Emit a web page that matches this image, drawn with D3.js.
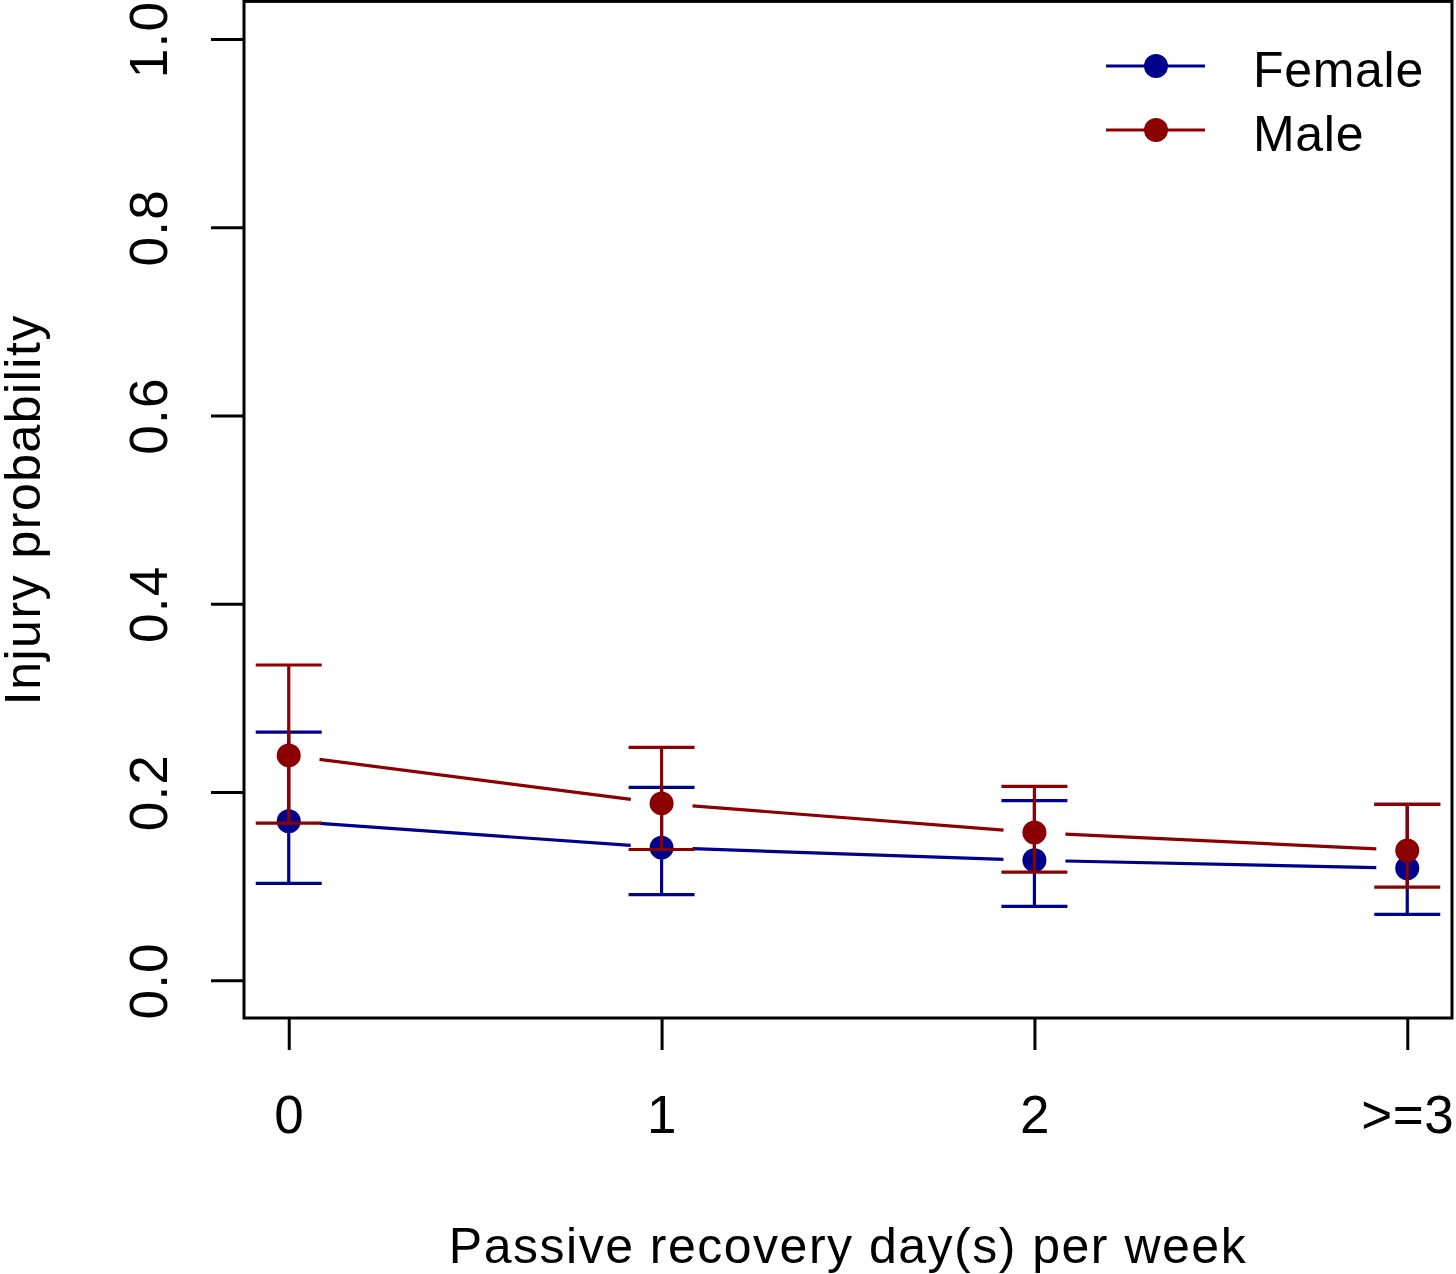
<!DOCTYPE html>
<html><head><meta charset="utf-8">
<script src="https://cdn.jsdelivr.net/npm/d3@7/dist/d3.min.js"></script>
<style>html,body{margin:0;padding:0;background:#fff}svg{display:block}text{font-family:"Liberation Sans",Arial,sans-serif;fill:#000}</style>
</head><body>
<svg id="c" width="1456" height="1274"></svg>
<script>
const categories = ["0", "1", "2", ">=3"];
const femaleMean  = [0.169, 0.141, 0.1275, 0.119];
const femaleLower = [0.103, 0.091, 0.0786, 0.070];
const femaleUpper = [0.2636, 0.205, 0.191, 0.187];
const maleMean  = [0.239, 0.188, 0.157, 0.138];
const maleLower = [0.167, 0.139, 0.115, 0.099];
const maleUpper = [0.335, 0.2476, 0.206, 0.187];
const yTicks = [0, 0.2, 0.4, 0.6, 0.8, 1.0];
const seriesNames = ["Female", "Male"];
const seriesColors = ["#00008B", "#8B0000"];

const svg = d3.select("#c");
const L = 244, R = 1452, T = 1.4, B = 1018;
const x = d3.scaleLinear().domain([-0.12, 3.12]).range([L, R]);
const y = d3.scaleLinear().domain([-0.04, 1.04]).range([B, T]);
const FONT = '"Liberation Sans",Arial,sans-serif';

// box
svg.append("rect").attr("x", L).attr("y", T).attr("width", R - L).attr("height", B - T)
  .attr("fill", "none").attr("stroke", "#000").attr("stroke-width", 3);

// y axis
const yAxis = d3.axisLeft(y).tickValues(yTicks).tickFormat(d3.format(".1f")).tickSize(33).tickPadding(0);
const gy = svg.append("g").attr("transform", `translate(${L},0)`).call(yAxis);
gy.select(".domain").remove();
gy.selectAll(".tick line").attr("stroke", "#000").attr("stroke-width", 3);
gy.selectAll(".tick text").attr("x", null).attr("dy", null)
  .attr("transform", "translate(-77,0) rotate(-90)")
  .attr("text-anchor", "middle").attr("font-size", 53).attr("letter-spacing", 1.2)
  .style("font-family", FONT);

// x axis
const xAxis = d3.axisBottom(x).tickValues([0, 1, 2, 3]).tickFormat((d, i) => categories[i]).tickSize(32).tickPadding(0);
const gx = svg.append("g").attr("transform", `translate(0,${B})`).call(xAxis);
gx.select(".domain").remove();
gx.selectAll(".tick line").attr("stroke", "#000").attr("stroke-width", 3);
gx.selectAll(".tick text").attr("y", 115).attr("dy", null).attr("font-size", 53).attr("letter-spacing", 0.5)
  .style("font-family", FONT);

// axis labels
svg.append("text").attr("x", (L + R) / 2).attr("y", 1263).attr("text-anchor", "middle")
  .attr("font-size", 50).attr("letter-spacing", 1.5).text("Passive recovery day(s) per week");
svg.append("text").attr("transform", `translate(40,${(T + B) / 2}) rotate(-90)`).attr("text-anchor", "middle")
  .attr("font-size", 50).attr("letter-spacing", 1.5).text("Injury probability");

const series = [
  {mean: femaleMean, lo: femaleLower, hi: femaleUpper, color: seriesColors[0]},
  {mean: maleMean, lo: maleLower, hi: maleUpper, color: seriesColors[1]}
];
const gap = 31, cap = 33, rad = 12;
series.forEach(s => {
  const g = svg.append("g");
  // lines with gaps (type = "b")
  for (let i = 0; i < s.mean.length - 1; i++) {
    const x1 = x(i), y1 = y(s.mean[i]), x2 = x(i + 1), y2 = y(s.mean[i + 1]);
    const dx = x2 - x1, dy = y2 - y1, len = Math.hypot(dx, dy);
    const ux = dx / len, uy = dy / len;
    g.append("line").attr("x1", x1 + ux * gap).attr("y1", y1 + uy * gap)
      .attr("x2", x2 - ux * gap).attr("y2", y2 - uy * gap)
      .attr("stroke", s.color).attr("stroke-width", 3.2);
  }
  s.mean.forEach((m, i) => {
    g.append("circle").attr("cx", x(i)).attr("cy", y(m)).attr("r", rad).attr("fill", s.color);
  });
  s.mean.forEach((m, i) => {
    g.append("line").attr("x1", x(i)).attr("x2", x(i)).attr("y1", y(s.lo[i])).attr("y2", y(s.hi[i]))
      .attr("stroke", s.color).attr("stroke-width", 3.2);
    [s.lo[i], s.hi[i]].forEach(v => {
      g.append("line").attr("x1", x(i) - cap).attr("x2", x(i) + cap).attr("y1", y(v)).attr("y2", y(v))
        .attr("stroke", s.color).attr("stroke-width", 3.2);
    });
  });
});

// legend
const lg = svg.append("g");
seriesNames.forEach((n, i) => {
  const yy = 66 + i * 64;
  lg.append("line").attr("x1", 1106).attr("x2", 1205).attr("y1", yy).attr("y2", yy)
    .attr("stroke", seriesColors[i]).attr("stroke-width", 3.2);
  lg.append("circle").attr("cx", 1156).attr("cy", yy).attr("r", rad).attr("fill", seriesColors[i]);
  lg.append("text").attr("x", 1253).attr("y", yy + 21).attr("font-size", 50).attr("letter-spacing", 0.7).text(n);
});
</script>
</body></html>
